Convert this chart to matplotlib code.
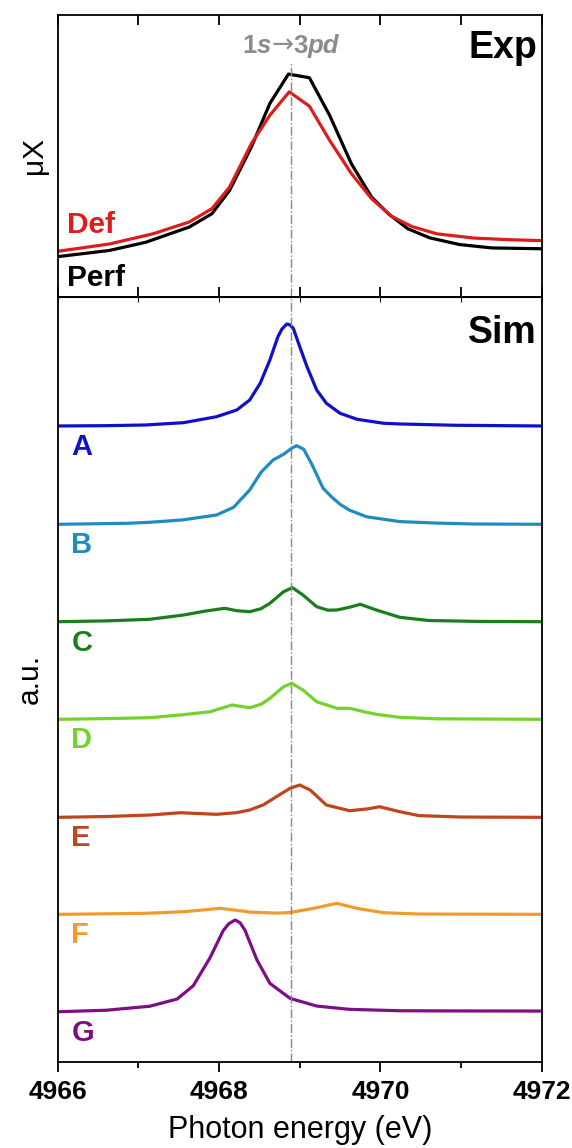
import matplotlib
matplotlib.use("Agg")
import matplotlib.pyplot as plt
from matplotlib.ticker import MultipleLocator
from matplotlib.offsetbox import TextArea, HPacker, AnnotationBbox

plt.rcParams['font.family'] = ['Liberation Sans', 'DejaVu Sans']
plt.rcParams['lines.solid_joinstyle'] = 'round'
plt.rcParams['lines.solid_capstyle'] = 'round'

perf_energy = [4966.00, 4966.64, 4967.09, 4967.63, 4967.91, 4968.13, 4968.40, 4968.63,
               4968.86, 4969.12, 4969.37, 4969.64, 4969.89, 4970.10, 4970.34, 4970.61,
               4970.98, 4971.38, 4972.00]
perf_mu = [0.142, 0.164, 0.193, 0.247, 0.294, 0.377, 0.531, 0.686,
           0.790, 0.777, 0.644, 0.472, 0.354, 0.294, 0.241, 0.209,
           0.185, 0.173, 0.170]
def_energy = [4966.00, 4966.64, 4967.18, 4967.63, 4967.91, 4968.13, 4968.40, 4968.63,
              4968.87, 4969.12, 4969.37, 4969.64, 4969.89, 4970.14, 4970.39, 4970.70,
              4971.16, 4971.61, 4972.00]
def_mu = [0.161, 0.187, 0.223, 0.265, 0.312, 0.389, 0.543, 0.644,
          0.727, 0.676, 0.555, 0.437, 0.348, 0.285, 0.249, 0.223,
          0.208, 0.202, 0.199]

# --- simulated spectra (bottom panel), heights above each baseline ---
sim_labels = ['A', 'B', 'C', 'D', 'E', 'F', 'G']
sim_colors = ['#1010c8', '#1f8cc0', '#1c7d1c', '#74d22c', '#bf451d', '#f39a2e', '#7c0f84']
sim_offsets = [6.355, 5.372, 4.398, 3.422, 2.442, 1.472, 0.498]

energy_A = [4966.00, 4966.60, 4967.09, 4967.56, 4967.97, 4968.22, 4968.38, 4968.51, 4968.63,
            4968.73, 4968.78, 4968.84, 4968.88, 4968.92, 4969.00, 4969.09, 4969.21, 4969.33,
            4969.50, 4969.71, 4970.04, 4970.24, 4970.93, 4972.00]
height_A = [0.000, 0.003, 0.010, 0.033, 0.093, 0.160, 0.260, 0.427, 0.660,
            0.893, 0.970, 1.020, 1.010, 0.977, 0.793, 0.593, 0.360, 0.227,
            0.127, 0.067, 0.027, 0.020, 0.007, 0.000]

energy_B = [4966.00, 4966.87, 4967.14, 4967.54, 4967.97, 4968.18, 4968.38, 4968.52, 4968.67,
            4968.80, 4968.90, 4968.96, 4969.05, 4969.15, 4969.29, 4969.40, 4969.50, 4969.62,
            4969.83, 4970.24, 4970.70, 4971.16, 4972.00]
height_B = [0.000, 0.010, 0.020, 0.043, 0.093, 0.170, 0.343, 0.520, 0.643,
            0.700, 0.760, 0.786, 0.750, 0.600, 0.360, 0.270, 0.200, 0.140,
            0.075, 0.027, 0.012, 0.003, 0.000]

energy_C = [4966.00, 4966.60, 4967.14, 4967.56, 4967.82, 4968.07, 4968.22, 4968.38, 4968.52,
            4968.63, 4968.80, 4968.91, 4969.04, 4969.21, 4969.35, 4969.46, 4969.62, 4969.75,
            4969.95, 4970.24, 4970.60, 4971.20, 4972.00]
height_C = [0.000, 0.008, 0.024, 0.067, 0.105, 0.134, 0.110, 0.100, 0.130,
            0.184, 0.300, 0.340, 0.267, 0.150, 0.115, 0.117, 0.145, 0.174,
            0.117, 0.044, 0.012, 0.003, 0.000]

energy_D = [4966.00, 4966.60, 4967.14, 4967.54, 4967.89, 4968.16, 4968.38, 4968.52, 4968.63,
            4968.80, 4968.90, 4969.04, 4969.21, 4969.46, 4969.62, 4969.80, 4969.95, 4970.24,
            4970.70, 4972.00]
height_D = [0.000, 0.007, 0.016, 0.045, 0.076, 0.143, 0.116, 0.150, 0.210,
            0.326, 0.360, 0.293, 0.176, 0.110, 0.110, 0.075, 0.050, 0.020,
            0.005, 0.000]

energy_E = [4966.00, 4966.60, 4967.14, 4967.52, 4967.97, 4968.22, 4968.38, 4968.55, 4968.71,
            4968.88, 4969.00, 4969.13, 4969.33, 4969.62, 4969.85, 4969.99, 4970.24, 4970.48,
            4971.00, 4972.00]
height_E = [0.000, 0.008, 0.023, 0.046, 0.030, 0.047, 0.073, 0.125, 0.206,
            0.290, 0.323, 0.273, 0.123, 0.066, 0.085, 0.106, 0.056, 0.017,
            0.003, 0.000]

energy_F = [4966.00, 4966.60, 4967.09, 4967.56, 4968.02, 4968.38, 4968.72, 4968.88, 4969.17,
            4969.46, 4969.71, 4970.04, 4970.48, 4972.00]
height_F = [0.000, 0.005, 0.010, 0.026, 0.060, 0.023, 0.012, 0.018, 0.060,
            0.110, 0.060, 0.016, 0.003, 0.000]

energy_G = [4966.00, 4966.60, 4967.14, 4967.48, 4967.68, 4967.89, 4968.05, 4968.12, 4968.20,
            4968.26, 4968.32, 4968.47, 4968.63, 4968.88, 4969.21, 4969.62, 4970.24, 4971.00,
            4972.00]
height_G = [0.000, 0.015, 0.055, 0.127, 0.260, 0.543, 0.810, 0.880, 0.917,
            0.890, 0.817, 0.517, 0.284, 0.134, 0.057, 0.024, 0.010, 0.008,
            0.007]

sim_energy = [energy_A, energy_B, energy_C, energy_D, energy_E, energy_F, energy_G]
sim_height = [height_A, height_B, height_C, height_D, height_E, height_F, height_G]

transition_energy = 4968.89

fig, (ax1, ax2) = plt.subplots(2, 1, figsize=(5.72, 11.48), dpi=100, sharex=True,
                               gridspec_kw={'height_ratios': [281.7, 764.8], 'hspace': 0})
fig.subplots_adjust(left=0.101, right=0.947, top=0.987, bottom=0.0753)

# top panel
ax1.plot(perf_energy, perf_mu, color='black', lw=2.3)
ax1.plot(def_energy, def_mu, color='#dd1c1c', lw=2.3)
ax1.set_ylim(0, 1)
ax1.axvline(transition_energy, ymax=0.83, color='#888888', lw=1, ls='-.')

gray = '#8c8c8c'
parts = [TextArea('1', textprops=dict(color=gray, fontsize=18.5, fontweight='bold')),
         TextArea('s', textprops=dict(color=gray, fontsize=18.5, fontweight='bold', fontstyle='italic')),
         TextArea('→', textprops=dict(color=gray, fontsize=19, family='DejaVu Sans')),
         TextArea('3', textprops=dict(color=gray, fontsize=18.5, fontweight='bold')),
         TextArea('pd', textprops=dict(color=gray, fontsize=18.5, fontweight='bold', fontstyle='italic'))]
trans_box = HPacker(children=parts, align='baseline', pad=0, sep=0)
ax1.add_artist(AnnotationBbox(trans_box, (transition_energy, 0.89),
                              xycoords=('data', 'axes fraction'), frameon=False,
                              box_alignment=(0.5, 0.5)))

ax1.text(0.990, 0.883, 'Exp', transform=ax1.transAxes, fontsize=27, fontweight='bold',
         ha='right', va='center')
ax1.text(0.019, 0.254, 'Def', transform=ax1.transAxes, fontsize=21.5, fontweight='bold',
         color='#dd1c1c', ha='left', va='center')
ax1.text(0.019, 0.066, 'Perf', transform=ax1.transAxes, fontsize=21.5, fontweight='bold',
         color='black', ha='left', va='center')
ax1.set_ylabel('μX', fontsize=21.5)
ax1.yaxis.set_label_coords(-0.02, 0.5)

# bottom panel
for lab, col, off, en, h in zip(sim_labels, sim_colors, sim_offsets, sim_energy, sim_height):
    ax2.plot(en, [off + v for v in h], color=col, lw=2.3)
    ax2.text(4966.17, off - 0.21, lab, color=col, fontsize=21, fontweight='bold',
             ha='left', va='center')
ax2.set_ylim(0, 7.648)
ax2.axvline(transition_energy, color='#888888', lw=1, ls='-.')
ax2.text(0.990, 0.9526, 'Sim', transform=ax2.transAxes, fontsize=27, fontweight='bold',
         ha='right', va='center')
ax2.set_ylabel('a.u.', fontsize=21.5)
ax2.yaxis.set_label_coords(-0.03, 0.5)
ax2.set_xlabel('Photon energy (eV)', fontsize=22, labelpad=8)

ax2.set_xlim(4966, 4972)
ax2.xaxis.set_major_locator(MultipleLocator(2))
ax2.xaxis.set_minor_locator(MultipleLocator(1))

for ax in (ax1, ax2):
    ax.set_yticks([])
    for s in ax.spines.values():
        s.set_linewidth(1.3)

ax1.tick_params(axis='x', which='both', direction='in', top=True, bottom=True,
                labelbottom=False, width=1.3, length=7)
ax2.tick_params(axis='x', which='both', direction='out', top=False, bottom=True, width=1.3)
ax2.tick_params(axis='x', which='major', length=7, pad=6)
ax2.tick_params(axis='x', which='minor', length=4)
ax2.secondary_xaxis('top').tick_params(axis='x', which='both', direction='in',
                                         labeltop=False)
for lbl in ax2.get_xticklabels():
    lbl.set_fontweight('bold')
    lbl.set_fontsize(19)

fig.savefig('out.png', dpi=100)
